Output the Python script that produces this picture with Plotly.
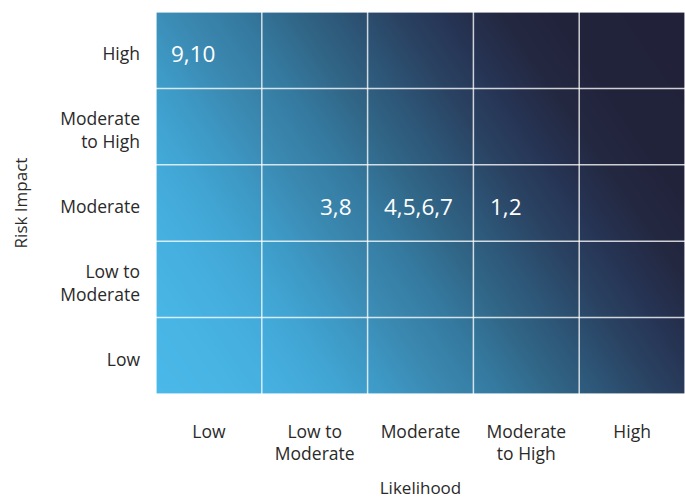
import plotly.graph_objects as go

# ---- data ----
likelihood_levels = ["Low", "Low to<br>Moderate", "Moderate", "Moderate<br>to High", "High"]
impact_levels = ["Low", "Low to<br>Moderate", "Moderate", "Moderate<br>to High", "High"]

risk_labels = ["9,10", "3,8", "4,5,6,7", "1,2"]
risk_likelihood_idx = [0, 1, 2, 3]   # index into likelihood_levels
risk_impact_idx = [4, 2, 2, 2]       # index into impact_levels

# ---- style ----
label_xshift = [-16, 21, -2, -20]
label_yshift = [-3, -3, -3, -3]
TEXT = "#2a2a2a"
FONT = "Open Sans"
GRID = "rgba(255,255,255,0.78)"

n_x = len(likelihood_levels)
n_y = len(impact_levels)

# background gradient (style only): linear ramp, light lower-left to dark upper-right
bg_x = [0, n_x]
bg_y = [0, n_y]
bg_z = [[0, n_x], [0.5 * n_y, n_x + 0.5 * n_y]]
zmax = n_x + 0.5 * n_y
stops = [
    (0.0, "#4AB8E8"), (0.75, "#47B4E4"), (1.25, "#45AEDE"), (1.75, "#41A5D3"),
    (2.25, "#3D97C3"), (2.75, "#3A87AF"), (3.25, "#357AA0"), (3.75, "#316788"),
    (4.25, "#2D5576"), (4.75, "#2A4262"), (5.25, "#263353"), (5.75, "#232840"),
    (6.25, "#21233B"), (7.5, "#21223A"),
]
colorscale = [[v / zmax, c] for v, c in stops]

fig = go.Figure()
fig.add_trace(go.Heatmap(
    x=bg_x, y=bg_y, z=bg_z, zmin=0, zmax=zmax, zsmooth="best",
    colorscale=colorscale, showscale=False, hoverinfo="skip",
))

# cell boundaries (grid) drawn above the gradient
for i in range(n_x + 1):
    fig.add_shape(type="line", xref="x", yref="y", x0=i, x1=i, y0=0, y1=n_y,
                  line=dict(color=GRID, width=1.5), layer="above")
for j in range(n_y + 1):
    fig.add_shape(type="line", xref="x", yref="y", x0=0, x1=n_x, y0=j, y1=j,
                  line=dict(color=GRID, width=1.5), layer="above")

for lab, xi, yi, dx, dy in zip(risk_labels, risk_likelihood_idx, risk_impact_idx,
                               label_xshift, label_yshift):
    fig.add_annotation(
        x=xi + 0.5, y=yi + 0.5, xref="x", yref="y", text=lab, showarrow=False,
        xshift=dx, yshift=dy, font=dict(family=FONT, size=22.5, color="white"),
    )

axis_common = dict(
    showgrid=False, zeroline=False, ticks="", fixedrange=True, showline=False,
    tickfont=dict(family=FONT, size=17.5, color=TEXT),
)

fig.update_xaxes(
    range=[0, n_x], tickmode="array",
    tickvals=[i + 0.5 for i in range(n_x)], ticktext=likelihood_levels,
    ticklabelstandoff=25,
    title=dict(text="Likelihood", font=dict(family=FONT, size=17, color=TEXT), standoff=22),
    **axis_common,
)
fig.update_yaxes(
    range=[0, n_y], tickmode="array",
    tickvals=[i + 0.5 for i in range(n_y)], ticktext=impact_levels,
    ticklabelstandoff=15, ticklabelshift=4,
    title=dict(text="Risk Impact", font=dict(family=FONT, size=17, color=TEXT), standoff=28),
    **axis_common,
)

fig.update_layout(
    width=685, height=499,
    margin=dict(l=156, r=0, t=12, b=105),
    paper_bgcolor="white", plot_bgcolor="white",
    font=dict(family=FONT, color=TEXT),
    showlegend=False,
)

fig.write_html("out.html")
